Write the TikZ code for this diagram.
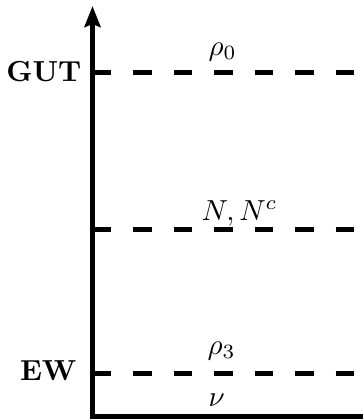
\documentclass[tikz,border=0pt]{standalone}
\usetikzlibrary{arrows.meta}
\begin{document}
\begin{tikzpicture}[x=0.345pt,y=-0.345pt,
  axisline/.style={line width=1.65pt},
  scaleline/.style={line width=1.65pt, dash pattern=on 18.5pt*0.345 off 22pt*0.345},
  lbl/.style={inner sep=0pt, anchor=base east, font=\bfseries},
  mlbl/.style={inner sep=0pt, anchor=base west}]
\useasboundingbox (0,0) rectangle (363,420);
\coordinate (origin) at (92.5,416.5);
\coordinate (top) at (92.5,6);
\coordinate (right) at (363,416.5);
\coordinate (gutL) at (92.5,72.5);
\coordinate (gutR) at (363,72.5);
\coordinate (midL) at (92.5,229.3);
\coordinate (midR) at (363,229.3);
\coordinate (ewL) at (92.5,373.5);
\coordinate (ewR) at (363,373.5);
\draw[scaleline] (gutL) -- (gutR);
\draw[scaleline] (midL) -- (midR);
\draw[scaleline] (ewL) -- (ewR);
\draw[axisline, -{Stealth[length=21pt*0.345, width=16pt*0.345, inset=3pt*0.345]}] (origin) -- (top);
\draw[axisline] ([xshift=-0.8pt]origin) -- (right);
\node[lbl] (gut) at (82,81.7) {GUT};
\node[lbl] (ew) at (77,380) {EW};
\node[mlbl] (rho0) at (208,55.5) {$\rho_0$};
\node[mlbl] (nnc) at (201,220) {$N, N^c$};
\node[mlbl] (rho3) at (207,354.5) {$\rho_3$};
\node[mlbl] (nu) at (208,406) {$\nu$};
\end{tikzpicture}
\end{document}
